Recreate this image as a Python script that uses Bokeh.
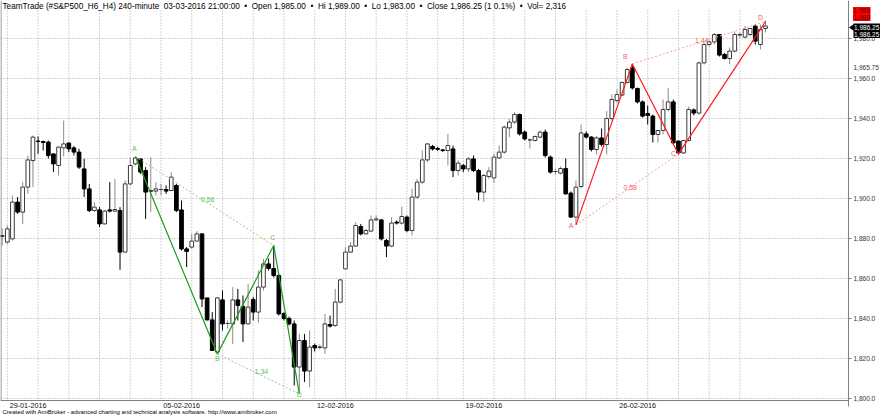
from bokeh.plotting import figure
from bokeh.models import Range1d, ColumnDataSource
from bokeh.embed import file_html
from bokeh.resources import INLINE
from bokeh.core.properties import value

# ---------------- data (S&P500 H4 bars) ----------------
opens = [1881.0, 1878.2, 1879.8, 1898.2, 1893.2, 1905.7, 1919.0, 1928.7, 1928.5, 1928.2,
         1922.3, 1916.5, 1925.3, 1927.7, 1925.3, 1923.2, 1914.8, 1904.8, 1894.0, 1894.3,
         1887.3, 1894.3, 1893.7, 1894.0, 1873.2, 1907.3, 1917.3, 1919.8, 1914.0, 1903.5,
         1903.7, 1904.5, 1904.5, 1904.0, 1906.5, 1894.3, 1874.8, 1875.7, 1878.7, 1882.3,
         1850.3, 1839.3, 1823.2, 1849.3, 1837.5, 1837.3, 1849.3, 1846.0, 1837.3, 1849.5,
         1843.2, 1855.7, 1867.3, 1865.0, 1861.5, 1842.5, 1840.0, 1837.3, 1815.7, 1829.0,
         1813.7, 1826.5, 1825.5, 1825.3, 1837.0, 1836.5, 1848.2, 1864.8, 1873.2, 1876.2,
         1886.0, 1882.3, 1883.7, 1889.3, 1889.3, 1879.0, 1876.2, 1888.2, 1887.7, 1890.7,
         1884.0, 1900.7, 1908.2, 1919.3, 1926.0, 1925.0, 1924.3, 1924.0, 1924.8, 1914.0,
         1916.5, 1914.8, 1919.8, 1914.0, 1903.2, 1911.0, 1910.3, 1920.3, 1923.2, 1935.3,
         1938.2, 1942.0, 1933.2, 1929.3, 1929.0, 1930.7, 1933.2, 1920.7, 1913.5, 1912.7,
         1915.0, 1902.7, 1890.7, 1906.0, 1932.3, 1930.7, 1924.5, 1930.3, 1927.0, 1940.0,
         1949.0, 1951.7, 1958.0, 1965.3, 1955.0, 1948.3, 1942.5, 1941.2, 1932.0, 1934.0,
         1944.5, 1948.3, 1928.7, 1922.8, 1929.0, 1944.3, 1942.7, 1967.8, 1977.0, 1978.3,
         1982.0, 1972.0, 1970.0, 1973.7, 1981.7, 1980.7, 1982.0, 1986.2, 1977.0, 1985.0]
highs = [1885.0, 1886.5, 1901.5, 1900.7, 1908.2, 1921.5, 1931.5, 1931.0, 1929.0, 1929.0,
         1922.5, 1926.0, 1939.0, 1928.2, 1926.2, 1924.8, 1919.8, 1907.3, 1898.2, 1895.7,
         1894.3, 1908.2, 1909.8, 1895.7, 1909.0, 1920.7, 1921.0, 1920.0, 1915.7, 1920.7,
         1908.2, 1907.3, 1906.5, 1913.2, 1907.3, 1899.0, 1875.7, 1882.3, 1883.7, 1882.7,
         1850.3, 1843.2, 1850.7, 1854.0, 1839.0, 1855.7, 1854.8, 1851.5, 1857.3, 1850.7,
         1864.0, 1869.8, 1870.0, 1876.5, 1862.3, 1843.2, 1841.0, 1839.0, 1832.3, 1832.3,
         1834.0, 1827.5, 1827.0, 1842.3, 1841.5, 1854.8, 1859.8, 1875.7, 1878.2, 1888.2,
         1887.3, 1884.8, 1891.5, 1891.5, 1889.8, 1879.8, 1890.7, 1889.0, 1896.0, 1891.5,
         1904.8, 1909.8, 1924.0, 1927.7, 1926.8, 1925.8, 1924.8, 1932.3, 1926.5, 1919.0,
         1917.3, 1920.7, 1921.5, 1914.8, 1912.3, 1915.7, 1922.3, 1926.5, 1936.5, 1939.8,
         1943.2, 1942.5, 1934.0, 1930.0, 1931.5, 1934.0, 1934.5, 1921.5, 1915.0, 1916.0,
         1920.0, 1903.5, 1909.0, 1937.0, 1933.5, 1931.2, 1931.2, 1935.0, 1943.7, 1952.0,
         1954.5, 1958.5, 1965.3, 1967.3, 1955.5, 1949.0, 1946.5, 1942.0, 1934.5, 1949.5,
         1955.3, 1949.5, 1929.0, 1929.0, 1946.0, 1945.0, 1968.5, 1978.0, 1979.0, 1982.8,
         1982.0, 1972.8, 1975.5, 1983.3, 1983.0, 1986.2, 1985.0, 1987.0, 1987.0, 1989.0]
lows = [1876.5, 1877.3, 1879.0, 1892.3, 1887.3, 1902.3, 1905.7, 1922.3, 1924.0, 1920.0,
        1913.2, 1911.5, 1921.0, 1923.2, 1921.5, 1914.8, 1900.7, 1893.2, 1893.2, 1885.7,
        1887.0, 1893.0, 1893.2, 1864.3, 1873.0, 1906.5, 1916.5, 1912.3, 1889.8, 1893.2,
        1901.5, 1901.5, 1902.3, 1903.7, 1893.2, 1874.0, 1865.7, 1874.8, 1878.7, 1845.7,
        1839.0, 1824.0, 1822.0, 1834.0, 1835.0, 1827.3, 1839.0, 1828.2, 1837.0, 1839.0,
        1838.0, 1854.0, 1864.0, 1860.5, 1841.5, 1839.0, 1836.5, 1806.5, 1802.5, 1808.2,
        1805.7, 1823.5, 1824.5, 1822.3, 1835.5, 1835.8, 1847.5, 1864.5, 1872.8, 1875.8,
        1881.5, 1882.0, 1883.2, 1889.0, 1879.0, 1870.7, 1875.7, 1887.0, 1887.0, 1883.2,
        1881.5, 1899.8, 1907.3, 1918.2, 1924.0, 1923.8, 1923.2, 1916.5, 1910.7, 1911.5,
        1913.2, 1913.2, 1913.2, 1899.0, 1898.2, 1909.8, 1907.7, 1919.8, 1922.3, 1930.7,
        1937.3, 1931.5, 1929.0, 1925.0, 1928.5, 1930.0, 1920.5, 1912.5, 1912.0, 1912.0,
        1902.0, 1890.2, 1887.0, 1905.0, 1930.0, 1923.5, 1922.0, 1926.0, 1922.0, 1939.0,
        1947.8, 1951.2, 1957.5, 1954.5, 1947.5, 1940.5, 1937.0, 1928.0, 1928.0, 1932.0,
        1943.5, 1927.0, 1922.0, 1922.3, 1928.5, 1941.5, 1942.0, 1967.0, 1976.0, 1977.0,
        1971.0, 1969.5, 1967.3, 1973.0, 1980.5, 1980.3, 1981.0, 1977.0, 1974.5, 1983.0]
closes = [1881.5, 1884.8, 1898.2, 1893.2, 1905.7, 1919.3, 1930.7, 1928.5, 1928.0, 1921.5,
          1917.3, 1925.7, 1927.3, 1924.8, 1923.2, 1915.7, 1904.8, 1894.0, 1895.7, 1887.3,
          1893.7, 1893.7, 1894.5, 1873.2, 1907.3, 1916.5, 1920.3, 1913.2, 1903.2, 1904.0,
          1904.8, 1904.5, 1903.7, 1910.7, 1894.0, 1874.8, 1873.5, 1878.7, 1882.3, 1849.8,
          1839.3, 1824.0, 1850.3, 1837.3, 1837.5, 1849.3, 1846.5, 1837.3, 1845.7, 1843.2,
          1855.7, 1867.3, 1865.0, 1861.5, 1842.3, 1840.0, 1837.3, 1815.7, 1829.0, 1813.7,
          1825.7, 1825.3, 1825.8, 1837.3, 1836.2, 1848.2, 1859.3, 1873.2, 1876.2, 1886.5,
          1882.3, 1884.0, 1889.3, 1889.8, 1879.8, 1876.2, 1887.7, 1887.7, 1891.0, 1884.0,
          1900.7, 1908.2, 1919.3, 1927.3, 1924.8, 1924.6, 1924.0, 1926.5, 1914.0, 1917.7,
          1914.8, 1919.8, 1914.0, 1903.2, 1911.5, 1913.7, 1920.7, 1923.2, 1935.7, 1938.2,
          1942.0, 1932.3, 1929.8, 1929.3, 1931.0, 1933.2, 1921.5, 1913.2, 1913.5, 1915.0,
          1902.3, 1890.7, 1905.7, 1932.8, 1930.7, 1924.5, 1930.3, 1927.0, 1940.0, 1949.5,
          1952.0, 1958.0, 1964.5, 1955.3, 1948.3, 1941.2, 1941.5, 1932.0, 1934.0, 1944.5,
          1948.3, 1927.8, 1922.8, 1929.0, 1944.5, 1942.7, 1967.8, 1977.0, 1978.3, 1982.0,
          1971.7, 1970.0, 1973.7, 1982.0, 1982.0, 1984.5, 1985.0, 1978.7, 1984.5, 1986.25]

# harmonic patterns (bar index, price, label)
g_idx = [26, 42, 53, 58]
g_price = [1921.0, 1822.3, 1876.5, 1802.3]
g_names = ["A", "B", "C", "D"]
g_ratios = ["0,56", "1,34"]

r_idx = [112, 123, 132, 149]
r_price = [1886.8, 1967.3, 1922.2, 1988.5]
r_names = ["A", "B", "C", "D"]
r_ratios = ["0,58", "1,44"]

# axes
price_ticks = [1800, 1820, 1840, 1860, 1880, 1900, 1920, 1940, 1960, 1980]
week_start_bars = [1, 31, 61, 90, 120]
week_labels = ["29-01-2016", "05-02-2016", "12-02-2016", "19-02-2016", "26-02-2016"]
day_start_bars = list(range(1, 86, 6)) + list(range(90, 145, 6))

SP2 = "\u00a0\u00a0"
title_parts = ["TeamTrade (#S&P500_H6_H4) 240-minute" + SP2 + "03-03-2016 21:00:00",
               "Open 1,985.00", "Hi 1,989.00", "Lo 1,983.00",
               "Close 1,986.25 (1 0.1%)", "Vol= 2,316"]
title_text = (SP2 + "\u2022" + SP2).join(title_parts)
footer_text = ("Created with AmiBroker - advanced charting and technical analysis software. "
               "http://www.amibroker.com")
extra_level = 1965.75
hi_value = 1989.0
close_value = 1986.25

FONT = "Liberation Sans"

# ---------------- layout helpers (pixel -> data) ----------------
BAR0, STEP = 1.7, 5.123
def X(px):
    return (px - BAR0) / STEP
def Y(py):
    return 1800 + (398 - py) / 2.0

p = figure(width=880, height=415, output_backend="svg", toolbar_location=None,
           x_range=Range1d(X(0), X(880)), y_range=Range1d(Y(415), Y(0)),
           min_border=0, x_axis_location=None, y_axis_location=None,
           background_fill_color="white", border_fill_color="white")
p.outline_line_color = None
p.grid.visible = False

GRID = "#a8a8a8"
AXC = "#808080"
R_EDGE = X(848)

# horizontal grid
p.segment(x0=[X(0)] * len(price_ticks), y0=price_ticks, x1=[R_EDGE] * len(price_ticks), y1=price_ticks,
          line_color=GRID, line_dash="1 2", line_width=1)
# vertical day grid
p.segment(x0=day_start_bars, y0=[Y(10)] * len(day_start_bars), x1=day_start_bars,
          y1=[Y(400)] * len(day_start_bars), line_color=GRID, line_dash="1 2", line_width=1)

# frame lines
p.segment(x0=[R_EDGE], y0=[Y(0)], x1=[R_EDGE], y1=[Y(406)], line_color=AXC, line_width=1)
p.segment(x0=[X(0)], y0=[Y(400)], x1=[R_EDGE], y1=[Y(400)], line_color=AXC, line_width=1)
p.segment(x0=[X(0.5)], y0=[Y(0)], x1=[X(0.5)], y1=[Y(400)], line_color=AXC, line_width=1)
# price ticks
p.segment(x0=[R_EDGE] * len(price_ticks), y0=price_ticks, x1=[X(851)] * len(price_ticks),
          y1=price_ticks, line_color=AXC, line_width=1)

# price labels
p.text(x=[X(853)] * len(price_ticks), y=price_ticks, text=[f"{t:,.1f}" for t in price_ticks],
       text_font=value(FONT), text_font_size="6.5px", text_color="#333333",
       text_align="left", text_baseline="middle")
p.text(x=[X(853)], y=[extra_level], text=[f"{extra_level:,.2f}"],
       text_font=value(FONT), text_font_size="6.5px", text_color="#333333",
       text_align="left", text_baseline="middle")

# date labels
p.text(x=[b + 0.45 for b in week_start_bars], y=[Y(405)] * len(week_labels), text=week_labels,
       text_font=value(FONT), text_font_size="7.2px", text_color="#111111",
       text_align="left", text_baseline="middle")

# ---------------- candles ----------------
n = len(opens)
idx = list(range(n))
up_i = [i for i in idx if closes[i] >= opens[i]]
dn_i = [i for i in idx if closes[i] < opens[i]]

def src(ids):
    return ColumnDataSource(dict(
        x=ids,
        h=[highs[i] for i in ids], l=[lows[i] for i in ids],
        top=[max(opens[i], closes[i]) for i in ids],
        bot=[min(opens[i], closes[i]) for i in ids]))

su, sd = src(up_i), src(dn_i)
p.segment(x0="x", y0="l", x1="x", y1="h", source=su, line_color="#8a8a8a", line_width=1)
p.segment(x0="x", y0="l", x1="x", y1="h", source=sd, line_color="#000000", line_width=1)
p.vbar(x="x", width=0.72, top="top", bottom="bot", source=su,
       fill_color="white", line_color="#3a3a3a", line_width=1)
p.vbar(x="x", width=0.72, top="top", bottom="bot", source=sd,
       fill_color="black", line_color="black", line_width=1)

# ---------------- harmonic patterns ----------------
def pattern(ix, pr, names, ratios, solid, light, lbl_col, offs):
    p.line([ix[0], ix[2]], [pr[0], pr[2]], line_color=light, line_width=1, line_dash="2 2")
    p.line([ix[1], ix[3]], [pr[1], pr[3]], line_color=light, line_width=1, line_dash="2 2")
    p.line(ix, pr, line_color=solid, line_width=1.2)
    p.text(x=ix, y=pr, text=names, x_offset=[o[0] for o in offs], y_offset=[o[1] for o in offs],
           text_color=lbl_col, text_font=value(FONT), text_font_size="7px",
           text_align="center", text_baseline="middle")
    mx = [(ix[0] + ix[2]) / 2, (ix[1] + ix[3]) / 2]
    my = [(pr[0] + pr[2]) / 2, (pr[1] + pr[3]) / 2]
    p.text(x=mx, y=my, text=ratios, x_offset=[3, 3], y_offset=[-2, -2],
           text_color=lbl_col, text_font=value(FONT), text_font_size="7px",
           text_align="center", text_baseline="middle")

pattern(g_idx, g_price, g_names, g_ratios, "#1f9a1f", "#86d486", "#5cbf5c",
        [(-1, -8), (0, 5), (-1, -8), (0, 1)])
pattern(r_idx, r_price, r_names, r_ratios, "#ff1a1a", "#ff9a9a", "#ff5a5a",
        [(-5, 1), (-7, -7), (-5, -1), (-5, -4)])

# ---------------- header / footer ----------------
p.text(x=[X(2)], y=[Y(1)], text=[title_text], text_font=value(FONT), text_font_size="8.2px",
       text_color="#000000", text_align="left", text_baseline="top")
p.text(x=[X(2)], y=[Y(411.5)], text=[footer_text], text_font=value(FONT), text_font_size="6px",
       text_color="#000000", text_align="left", text_baseline="middle")

# ---------------- price tags on the right ----------------
p.quad(left=[X(852.5)], right=[X(870)], top=[Y(6.5)], bottom=[Y(20.5)],
       fill_color="#ff0000", line_color=None)
p.text(x=[X(853)] * 2, y=[Y(10.3), Y(16.8)], text=[f"{hi_value:,.0f}"] * 2,
       text_font=value(FONT), text_font_size="6.5px", text_color="#5a0000",
       text_align="left", text_baseline="middle")
p.quad(left=[X(853)], right=[X(880)], top=[Y(23)], bottom=[Y(37.5)],
       fill_color="#000000", line_color=None)
p.patch(x=[X(848.5), X(853.5), X(853.5)], y=[Y(27), Y(23.5), Y(30.5)],
        fill_color="#000000", line_color=None)
p.text(x=[X(853.5)] * 2, y=[Y(27), Y(33.5)], text=[f"{close_value:,.2f}"] * 2,
       text_font=value(FONT), text_font_size="6.5px", text_color="#ffffff",
       text_align="left", text_baseline="middle")

open("out.html", "w").write(file_html(p, INLINE))
